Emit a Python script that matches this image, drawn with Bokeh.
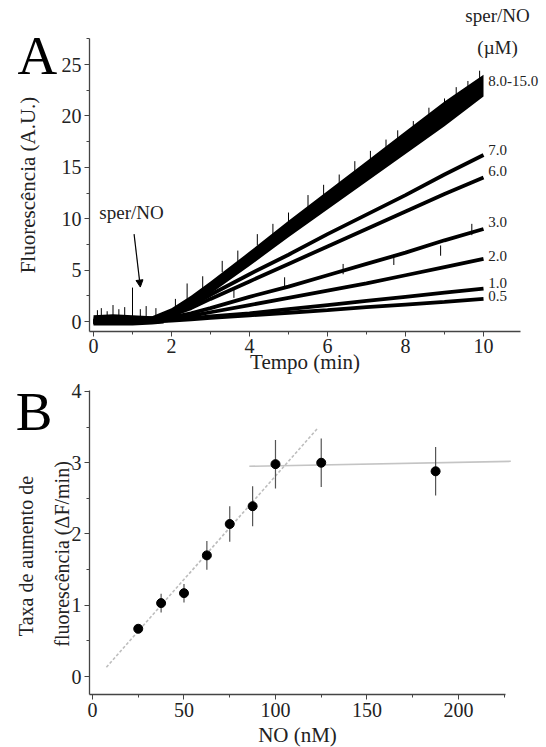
from bokeh.plotting import figure
from bokeh.layouts import column
from bokeh.models import Label, Arrow, NormalHead, SingleIntervalTicker, Range1d
from bokeh.embed import file_html
from bokeh.resources import INLINE

SERIF = "Liberation Serif"
INK = "#222222"

# ---------------- Panel A data ----------------
t_min = [0, 1.0, 1.5, 2.0, 2.5, 3, 4, 5, 6, 7, 8, 9, 10]
band_lo = [-0.3, -0.3, -0.2, 0.5, 1.5, 2.7, 5.4, 8.2, 10.9, 13.6, 16.3, 19.0, 21.9]   # sper/NO 8.0-15.0 (lower edge)
band_hi = [0.4, 0.4, 0.5, 1.3, 2.5, 3.9, 6.8, 9.8, 12.7, 15.6, 18.5, 21.4, 24.0]      # sper/NO 8.0-15.0 (upper edge)
tr_7 = [0, 0, 0.1, 0.7, 1.5, 2.6, 4.6, 6.5, 8.5, 10.4, 12.3, 14.3, 16.2]
tr_6 = [0, 0, 0.1, 0.6, 1.3, 2.2, 3.9, 5.6, 7.3, 9.0, 10.7, 12.4, 14.0]
tr_3 = [0, 0, 0.05, 0.4, 0.8, 1.3, 2.4, 3.4, 4.5, 5.6, 6.7, 7.9, 9.0]
tr_2 = [0, 0, 0.05, 0.3, 0.55, 0.9, 1.6, 2.3, 3.0, 3.7, 4.5, 5.3, 6.1]
tr_1 = [0, 0, 0.0, 0.15, 0.3, 0.5, 0.8, 1.2, 1.6, 2.0, 2.4, 2.8, 3.2]
tr_05 = [0, 0, 0.0, 0.1, 0.2, 0.35, 0.6, 0.85, 1.1, 1.4, 1.65, 1.9, 2.2]
traces = [tr_7, tr_6, tr_3, tr_2, tr_1, tr_05]
trace_labels = ["8.0-15.0", "7.0", "6.0", "3.0", "2.0", "1.0", "0.5"]
trace_label_y = [23.4, 16.7, 14.6, 9.7, 6.4, 3.7, 2.5]

# baseline noise before addition
base_t = [0, 0.5, 1.0, 1.5, 1.8]
base_lo = [-0.4, -0.4, -0.4, -0.3, -0.2]
base_hi = [0.6, 0.7, 0.6, 0.5, 0.6]
# prominent noise spikes
spike_t = [0.1, 0.2, 0.35, 0.5, 0.65, 0.8, 1.0, 1.2, 1.35, 1.6, 2.1, 2.4, 2.8, 3.3, 3.7,
           4.2, 4.6, 5.0, 5.5, 5.9, 6.3, 6.7, 7.1, 7.5, 7.8, 8.2, 8.6, 9.0, 9.3, 9.6, 9.9,
           3.6, 4.9, 6.4, 7.7, 8.9, 9.7]
spike_base = [0.3, 0.3, 0.3, 0.3, 0.3, 0.3, 0.3, 0.3, 0.3, 0.3, 1.0, 2.2, 3.2, 4.8, 5.8,
              7.4, 8.5, 9.5, 11.0, 12.2, 13.2, 14.3, 15.5, 16.6, 17.4, 18.5, 19.6, 20.6, 21.5, 22.3, 23.4,
              2.3, 3.3, 4.6, 5.5, 6.4, 8.4]
spike_top = [1.1, 1.3, 1.0, 1.6, 1.2, 1.4, 3.3, 1.2, 1.5, 1.3, 2.2, 3.7, 4.4, 5.9, 6.9,
             8.5, 9.5, 10.6, 12.3, 13.3, 14.3, 15.6, 16.6, 17.7, 18.6, 19.5, 20.8, 21.7, 22.8, 23.4, 24.4,
             3.3, 4.3, 5.6, 6.5, 7.4, 9.5]

# ---------------- Panel B data ----------------
no_nm = [25, 37.5, 50, 62.5, 75, 87.5, 100, 125, 187.5]
rate = [0.67, 1.03, 1.17, 1.70, 2.14, 2.39, 2.98, 3.00, 2.88]
rate_err = [0.05, 0.13, 0.13, 0.20, 0.25, 0.28, 0.34, 0.34, 0.34]
fit_x = [7.6, 122.9]
fit_y = [0.13, 3.48]
plateau_x = [85.7, 228.6]
plateau_y = [2.95, 3.02]


def style_axes(p, xint, xminor, yint, yminor):
    p.xaxis.ticker = SingleIntervalTicker(interval=xint, num_minor_ticks=xminor)
    p.yaxis.ticker = SingleIntervalTicker(interval=yint, num_minor_ticks=yminor)
    for ax in (p.xaxis, p.yaxis):
        ax.axis_line_color = "#444444"
        ax.axis_line_width = 1.3
        ax.major_tick_line_color = "#444444"
        ax.minor_tick_line_color = "#444444"
        ax.major_tick_out = 5
        ax.major_tick_in = 0
        ax.minor_tick_out = 3
        ax.minor_tick_in = 0
        ax.major_label_text_font = SERIF
        ax.major_label_text_font_size = "20px"
        ax.major_label_text_color = INK
        ax.axis_label_text_font = SERIF
        ax.axis_label_text_font_size = "21px"
        ax.axis_label_text_font_style = "normal"
        ax.axis_label_text_color = INK
        ax.major_label_standoff = 3
    p.grid.visible = False
    p.outline_line_color = None
    p.background_fill_color = "white"
    p.border_fill_color = "white"


def lab(p, x, y, text, size, align="left", baseline="middle", angle=0.0, color=INK):
    p.add_layout(Label(x=x, y=y, text=text, text_font=SERIF, text_font_size=size,
                       text_color=color, text_align=align, text_baseline=baseline, angle=angle))


# ---------------- Panel A ----------------
pA = figure(width=546, height=379, output_backend="svg", toolbar_location=None,
            x_range=Range1d(-2.385, 11.615), y_range=Range1d(-5.642, 31.23),
            min_border=0)
style_axes(pA, 2, 2, 5, 2)
pA.xaxis.fixed_location = -0.973
pA.yaxis.fixed_location = -0.103
pA.xaxis.bounds = (-0.1, 10.95)
pA.yaxis.bounds = (-0.97, 27.53)
pA.xaxis.axis_label = "Tempo (min)"
pA.yaxis.axis_label = "Fluorescência (A.U.)"
pA.xaxis.major_label_standoff = 2
pA.xaxis.axis_label_standoff = -6
pA.yaxis.axis_label_standoff = 19

pA.varea(x=base_t, y1=base_lo, y2=base_hi, fill_color="black")
pA.segment(x0=spike_t, y0=spike_base, x1=spike_t, y1=spike_top, line_color="black", line_width=1)
pA.varea(x=t_min, y1=band_lo, y2=band_hi, fill_color="black")
for tr in traces:
    pA.line(t_min, tr, line_color="black", line_width=3.8)

for txt, yy in zip(trace_labels, trace_label_y):
    lab(pA, 10.12, yy, txt, "15px")
lab(pA, 10.36, 29.8, "sper/NO", "19px", align="center")
lab(pA, 10.36, 26.7, "(µM)", "19px", align="center")
lab(pA, 0.15, 10.65, "sper/NO", "19px")
pA.add_layout(Arrow(end=NormalHead(size=7, fill_color="black", line_color="black"),
                    x_start=1.04, y_start=8.5, x_end=1.2, y_end=3.35,
                    line_color="black", line_width=1.2))
lab(pA, -1.95, 25.9, "A", "55px", color="black")

# ---------------- Panel B ----------------
pB = figure(width=546, height=368, output_backend="svg", toolbar_location=None,
            x_range=Range1d(-50.27, 248.1), y_range=Range1d(-0.996, 4.168),
            min_border=0)
style_axes(pB, 50, 2, 1, 2)
pB.xaxis.fixed_location = -0.2526
pB.yaxis.fixed_location = -1.64
pB.xaxis.bounds = (-1.6, 225.7)
pB.yaxis.bounds = (-0.25, 4.017)
pB.xaxis.axis_label = "NO (nM)"
pB.xaxis.axis_label_standoff = 3

pB.line(fit_x, fit_y, line_color="#bdbdbd", line_width=1.6, line_dash="3 2")
pB.line(plateau_x, plateau_y, line_color="#c4c4c4", line_width=1.6)
lo = [r - e for r, e in zip(rate, rate_err)]
hi = [r + e for r, e in zip(rate, rate_err)]
pB.segment(x0=no_nm, y0=lo, x1=no_nm, y1=hi, line_color="#555555", line_width=1.2)
pB.scatter(no_nm, rate, size=9, fill_color="black", line_color="black")

lab(pB, -36.6, 1.69, "Taxa de aumento de", "20px", align="center", angle=1.5708)
lab(pB, -16.4, 1.72, "fluorescência (ΔF/min)", "20px", align="center", angle=1.5708)
lab(pB, -42, 3.72, "B", "55px", color="black")

layout = column(pA, pB, spacing=0)
open("out.html", "w").write(file_html(layout, INLINE))
